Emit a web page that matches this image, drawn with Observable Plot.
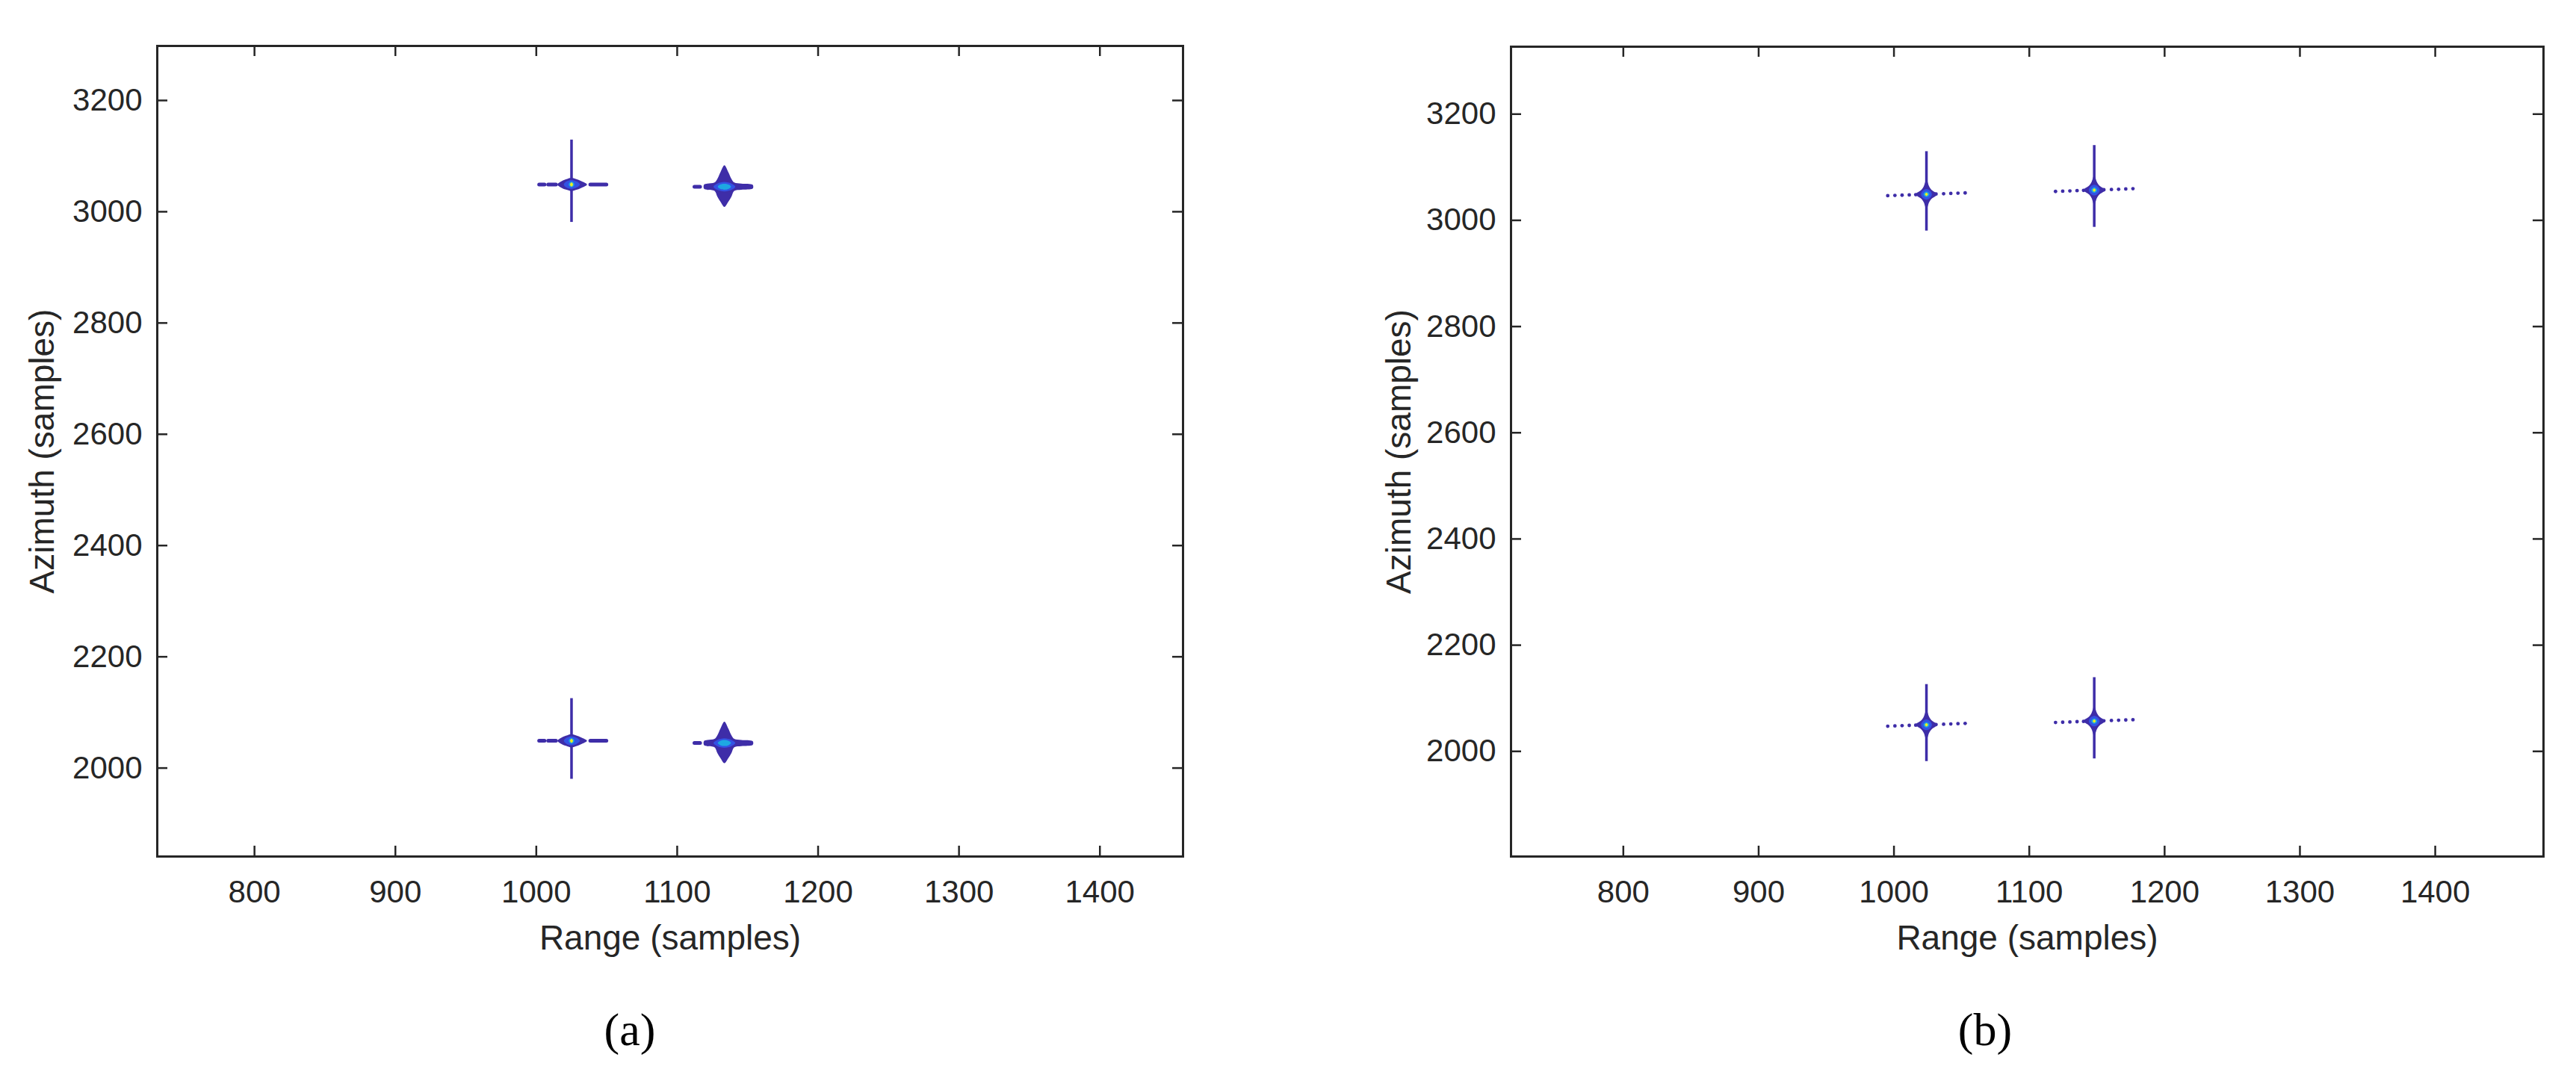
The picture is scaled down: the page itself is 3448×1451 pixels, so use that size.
<!DOCTYPE html>
<html>
<head>
<meta charset="utf-8">
<script src="https://cdn.jsdelivr.net/npm/d3@7"></script>
<script src="https://cdn.jsdelivr.net/npm/@observablehq/plot@0.6"></script>
<style>
  html, body { margin: 0; padding: 0; background: #ffffff; }
  #fig { position: relative; width: 3448px; height: 1451px; background: #ffffff; overflow: hidden; }
  .panel { position: absolute; top: 0; }
  .cap { position: absolute; transform: translate(-50%, -50%); font-family: "Liberation Serif", "DejaVu Serif", serif; font-size: 62px; color: #000; white-space: nowrap; }
</style>
</head>
<body>
<div id="fig">
  <div id="pa" class="panel" style="left:0px"></div>
  <div id="pb" class="panel" style="left:1720px"></div>
  <div class="cap" style="left:843px; top:1378px">(a)</div>
  <div class="cap" style="left:2657px; top:1378px">(b)</div>
</div>
<script>
// ---------------- data ----------------
const xTicks = [800, 900, 1000, 1100, 1200, 1300, 1400];
const yTicks = [2000, 2200, 2400, 2600, 2800, 3000, 3200];
const xLimitsA = [731, 1459];
const yLimitsA = [1841, 3298];
const xLimitsB = [717, 1480];
const yLimitsB = [1802, 3327];
const xLabel = "Range (samples)";
const yLabel = "Azimuth (samples)";

// point targets (peak positions, samples)
const targetPanel   = ["a", "a", "a", "a", "b", "b", "b", "b"];
const targetKind    = ["thin", "star", "thin", "star", "cross", "cross", "cross", "cross"];
const targetRange   = [1025, 1133.5, 1025, 1133.5, 1024, 1148, 1024, 1148];
const targetAzimuth = [3049, 3045, 2049, 2045, 3049, 3057, 2050, 2057];
// azimuth side-lobe extent above / below the peak (samples)
const armUp   = [80, 38.5, 76, 38, 80.5, 84, 76, 82];
const armDown = [68, 36.3, 69, 35.6, 69, 70, 69, 71];

// range side-lobe dashes (offsets from the peak, samples)
const thinDashes = [[-22.7, -18.9], [-16.3, -10.8], [13.6, 25.0]];
const starDashes = [[-21.0, -17.0]];
// range side-lobe dots of panel (b)
const crossDotDx = [-28.6, -23.3, -18.0, -12.7, -7.9, 7.1, 12.7, 18.0, 23.3, 28.6];
const crossDotDy = [-2.6, -2.1, -1.6, -1.1, -0.6, 0.6, 1.1, 1.6, 2.1, 2.6];

// contour levels of the main lobe (offsets from the peak, samples), outer -> inner
const thinCore = [
  [[-10, 0], [-7, 6], [-3, 10], [0, 12], [3, 10], [7, 6], [11, 0], [7, -6], [3, -10], [0, -12], [-3, -10], [-7, -6]],
  [[-5.5, 0], [-3.5, 5.5], [0, 8], [3.5, 5.5], [6, 0], [3.5, -5.5], [0, -8], [-3.5, -5.5]],
  [[-2, 0], [-1.3, 3.5], [0, 5], [1.3, 3.5], [2, 0], [1.3, -3.5], [0, -5], [-1.3, -3.5]],
  [[-1.1, 0], [0, 3.6], [1.1, 0], [0, -3.6]]
];
const starCore = [
  [[0, 38.5], [2.8, 26], [5, 14], [7, 7.5], [12, 5.5], [20, 3.5], [20.5, 0], [20, -3.5], [12, -5.5], [7, -7.5],
   [5, -18], [2.8, -27], [0, -36.3], [-2.8, -27], [-5, -18], [-7, -7.5], [-12, -5.5], [-14.5, -3.5],
   [-14.5, 3.5], [-12, 5.5], [-7, 7.5], [-5, 14], [-2.8, 26]],
  [[-7.7, 0], [-5, 5.5], [0, 8.5], [5, 5.5], [7.7, 0], [5, -5.5], [0, -8.5], [-5, -5.5]],
  [[-4.7, 0], [-3, 3.8], [0, 5.4], [3, 3.8], [4.7, 0], [3, -3.8], [0, -5.4], [-3, -3.8]]
];
const crossCore = [
  [[0, 28], [2, 15], [4, 8], [7, 3], [8, 0], [7, -3], [4, -8], [2, -15], [0, -28], [-2, -15], [-4, -8], [-7, -3], [-8, 0], [-7, 3], [-4, 8], [-2, 15]],
  [[-4, 0], [-2.6, 7], [0, 10], [2.6, 7], [4, 0], [2.6, -7], [0, -10], [-2.6, -7]],
  [[-2.2, 0], [-1.4, 3.5], [0, 5], [1.4, 3.5], [2.2, 0], [1.4, -3.5], [0, -5], [-1.4, -3.5]],
  [[-1.1, 0], [0, 3], [1.1, 0], [0, -3]]
];
const levelColors = ["#3e2da8", "#3352e4", "#1ea8e2", "#f3ee1f"];

// ---------------- build tables ----------------
const targets = targetRange.map((r, i) => ({
  id: i, panel: targetPanel[i], kind: targetKind[i], range: r, azimuth: targetAzimuth[i],
  up: armUp[i], down: armDown[i]
}));
const coreOf = {thin: thinCore, star: starCore, cross: crossCore};
const coreRows = [];
targets.forEach(t => {
  coreOf[t.kind].forEach((poly, l) => {
    poly.forEach(([dx, dy]) => coreRows.push({panel: t.panel, key: t.id + "-" + l, level: l, x: t.range + dx, y: t.azimuth + dy}));
  });
});
const dashRows = [];
targets.forEach(t => {
  const list = t.kind === "thin" ? thinDashes : t.kind === "star" ? starDashes : [];
  list.forEach(([a, b]) => dashRows.push({panel: t.panel, x1: t.range + a, x2: t.range + b, y: t.azimuth}));
});
const dotRows = [];
targets.filter(t => t.kind === "cross").forEach(t => {
  crossDotDx.forEach((dx, k) => dotRows.push({panel: t.panel, x: t.range + dx, y: t.azimuth + crossDotDy[k]}));
});

// ---------------- drawing ----------------
const ink = "#262626";
function panel(p, cfg) {
  const plotW = cfg.width - cfg.marginLeft - cfg.marginRight;
  const plotH = cfg.height - cfg.marginTop - cfg.marginBottom;
  const T = targets.filter(d => d.panel === p && d.kind !== "star");
  const marks = [
    Plot.ruleX(T, {x: "range", y1: d => d.azimuth - d.down, y2: d => d.azimuth + d.up, stroke: levelColors[0], strokeWidth: 3.5}),
    Plot.ruleY(dashRows.filter(d => d.panel === p), {y: "y", x1: "x1", x2: "x2", stroke: levelColors[0], strokeWidth: 5, strokeLinecap: "round"}),
    Plot.dot(dotRows.filter(d => d.panel === p), {x: "x", y: "y", r: 2.4, fill: levelColors[0], stroke: "none"})
  ];
  for (let l = 0; l < levelColors.length; l++) {
    marks.push(Plot.line(coreRows.filter(d => d.panel === p && d.level === l),
      {x: "x", y: "y", z: "key", fill: levelColors[l], stroke: "none", curve: "catmull-rom-closed"}));
  }
  marks.push(
    Plot.frame({stroke: ink, strokeWidth: 3}),
    Plot.tickX(xTicks, {x: d => d, insetTop: plotH - 14, stroke: ink, strokeWidth: 2.5}),
    Plot.tickX(xTicks, {x: d => d, insetBottom: plotH - 14, stroke: ink, strokeWidth: 2.5}),
    Plot.tickY(yTicks, {y: d => d, insetRight: plotW - 14, stroke: ink, strokeWidth: 2.5}),
    Plot.tickY(yTicks, {y: d => d, insetLeft: plotW - 14, stroke: ink, strokeWidth: 2.5}),
    Plot.axisX(xTicks, {anchor: "bottom", tickSize: 0, tickPadding: 32, fontSize: 42, tickFormat: d => String(d), label: null}),
    Plot.axisY(yTicks, {anchor: "left", tickSize: 0, tickPadding: 20, fontSize: 42, tickFormat: d => String(d), label: null}),
    Plot.text([xLabel], {text: d => d, frameAnchor: "bottom", dy: 110, fontSize: 46, textAnchor: "middle", lineAnchor: "middle", fill: ink}),
    Plot.text([yLabel], {text: d => d, frameAnchor: "left", dx: cfg.yLabelDx, rotate: -90, fontSize: 46, textAnchor: "middle", lineAnchor: "middle", fill: ink})
  );
  return Plot.plot({
    width: cfg.width, height: cfg.height,
    marginLeft: cfg.marginLeft, marginRight: cfg.marginRight, marginTop: cfg.marginTop, marginBottom: cfg.marginBottom,
    x: {domain: cfg.x, label: null},
    y: {domain: cfg.y, label: null},
    style: {fontFamily: "'Liberation Sans', Arial, Helvetica, sans-serif", fontSize: "42px", color: ink, background: "#ffffff", overflow: "visible"},
    marks
  });
}

document.getElementById("pa").appendChild(panel("a", {
  width: 1640, height: 1300, marginLeft: 210, marginRight: 57, marginTop: 61, marginBottom: 154,
  x: xLimitsA, y: yLimitsA, yLabelDx: -153
}));
document.getElementById("pb").appendChild(panel("b", {
  width: 1728, height: 1300, marginLeft: 302, marginRight: 44, marginTop: 62, marginBottom: 154,
  x: xLimitsB, y: yLimitsB, yLabelDx: -149
}));
</script>
</body>
</html>
